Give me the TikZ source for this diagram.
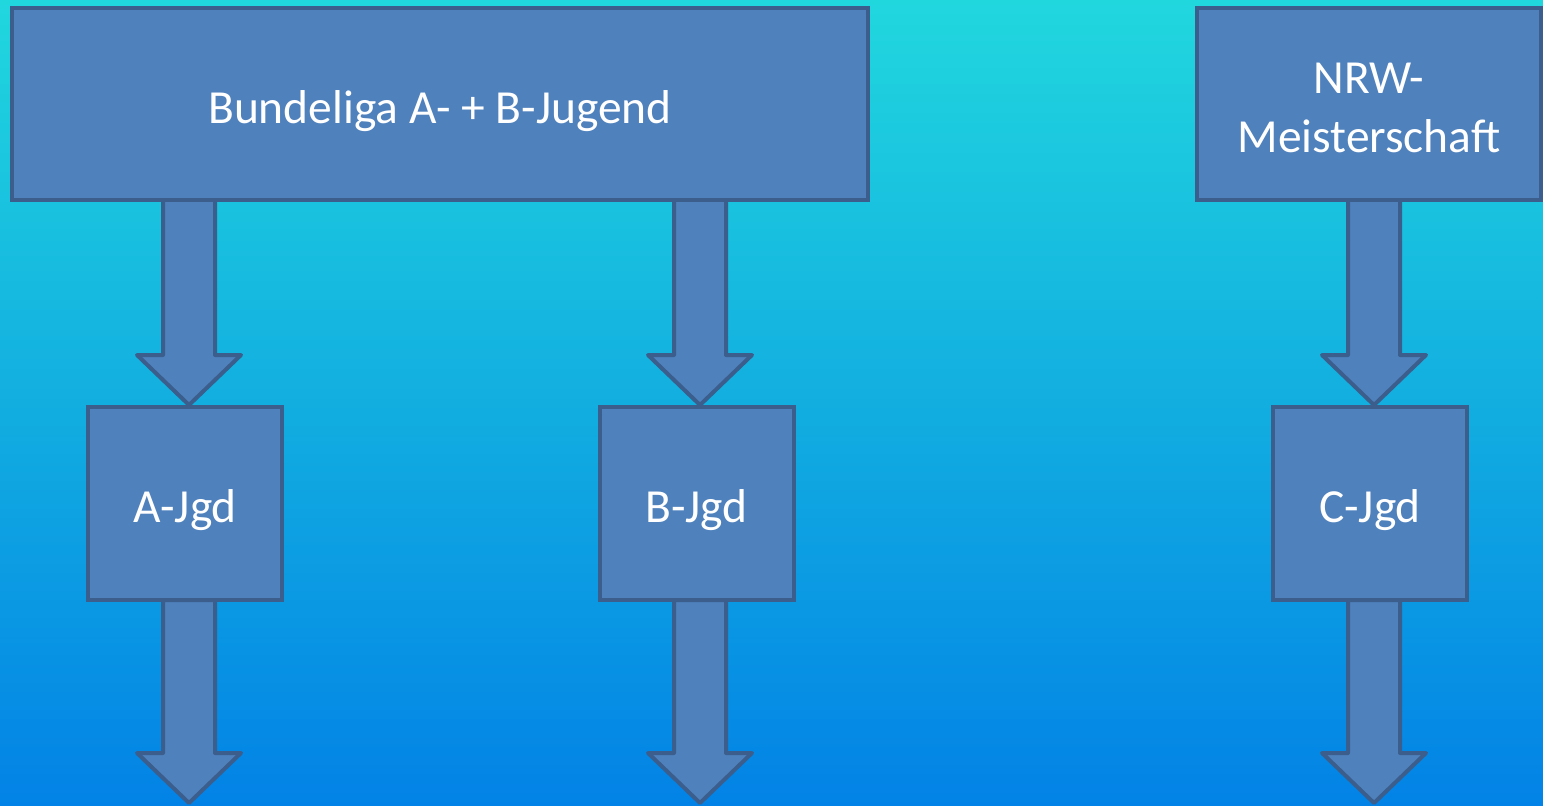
\documentclass[tikz,border=0pt]{standalone}
\usepackage{fontspec}
\setmainfont{Carlito}
\usetikzlibrary{calc}
\definecolor{boxfill}{HTML}{4F81BD}
\definecolor{boxline}{HTML}{3B5E8C}
\definecolor{bgtop}{HTML}{21D7DE}
\definecolor{bgbot}{HTML}{0282E6}
\tikzset{
  box/.style={draw=boxline, fill=boxfill, line width=3pt, text=white,
    font=\fontsize{35.6}{44.3}\selectfont, align=center, inner sep=0pt,
    text height=28.8pt, text depth=0pt},
  blockarrow/.style={draw=boxline, fill=boxfill, line width=3pt, line join=round},
}
\newcommand\blockarr[2]{%
  \path[blockarrow] let \p1=(#1), \p2=(#2) in
    (\x1-19.5pt,\y1) -- (\x1-19.5pt,\y2+37.5pt) -- (\x1-39pt,\y2+37.5pt) --
    (\x1,\y2) -- (\x1+39pt,\y2+37.5pt) -- (\x1+19.5pt,\y2+37.5pt) --
    (\x1+19.5pt,\y1) -- cycle;}
\begin{document}
\begin{tikzpicture}[x=0.75pt,y=-0.75pt]
\useasboundingbox (0,0) rectangle (1543,806);
\shade[top color=bgtop, bottom color=bgbot, middle color={rgb,255:red,18;green,174;blue,224}] (0,0) rectangle (1543,806);
% arrow end points
\coordinate (a1s) at (189,200); \coordinate (a1e) at (189,405);
\coordinate (b1s) at (700,200); \coordinate (b1e) at (700,405);
\coordinate (c1s) at (1374,200); \coordinate (c1e) at (1374,405);
\coordinate (a2s) at (189,600); \coordinate (a2e) at (189,803);
\coordinate (b2s) at (700,600); \coordinate (b2e) at (700,803);
\coordinate (c2s) at (1374,600); \coordinate (c2e) at (1374,803);
\blockarr{a1s}{a1e}
\blockarr{b1s}{b1e}
\blockarr{c1s}{c1e}
\blockarr{a2s}{a2e}
\blockarr{b2s}{b2e}
\blockarr{c2s}{c2e}
\node[box, minimum width=642pt, minimum height=144pt] (bl) at (440,104) {Bundeliga A- + B-Jugend};
\node[box, minimum width=258pt, minimum height=144pt, text height=73.5pt] (nrw) at (1369,104) {NRW-\\Meisterschaft};
\node[box, minimum width=145.5pt, minimum height=144.75pt] (a) at (185,503.5) {A-Jgd};
\node[box, minimum width=145.5pt, minimum height=144.75pt] (b) at (696.5,503.5) {B-Jgd};
\node[box, minimum width=145.5pt, minimum height=144.75pt] (c) at (1370,503.5) {C-Jgd};
\end{tikzpicture}
\end{document}
